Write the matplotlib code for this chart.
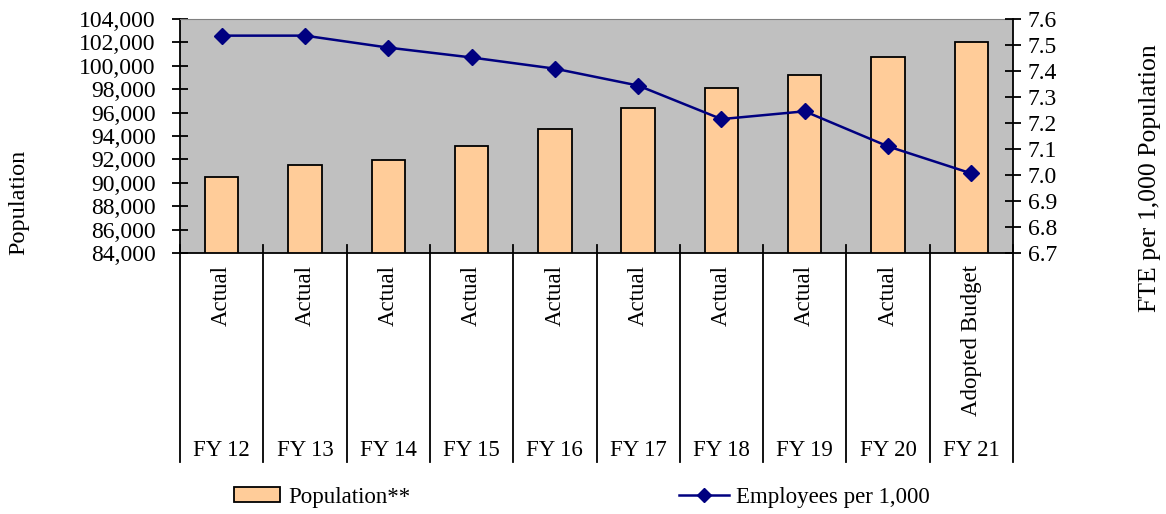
import matplotlib
matplotlib.use("Agg")
import matplotlib.pyplot as plt
from matplotlib.lines import Line2D
from matplotlib.patches import Patch
from matplotlib.ticker import FuncFormatter, MultipleLocator

years = ["FY 12", "FY 13", "FY 14", "FY 15", "FY 16", "FY 17", "FY 18", "FY 19", "FY 20", "FY 21"]
status = ["Actual", "Actual", "Actual", "Actual", "Actual", "Actual", "Actual", "Actual", "Actual", "Adopted Budget"]
population = [90460, 91490, 91950, 93150, 94620, 96420, 98070, 99240, 100720, 102030]
employees_per_1000 = [7.536, 7.536, 7.490, 7.452, 7.409, 7.344, 7.215, 7.245, 7.110, 7.006]

plt.rcParams['font.family'] = ['Liberation Serif', 'DejaVu Serif']
fs = 16.5

fig = plt.figure(figsize=(11.66, 5.14), dpi=100)
ax = fig.add_axes([180 / 1166, 1 - 253 / 514, (1013 - 180) / 1166, (253 - 19) / 514])
ax.set_facecolor('#C0C0C0')

x = list(range(len(years)))
ax.bar(x, population, width=0.4, bottom=0, color='#FFCC99', edgecolor='black', linewidth=1.3, zorder=2)
ax.set_xlim(-0.5, len(years) - 0.5)
ax.set_ylim(84000, 104000)
ax.yaxis.set_major_locator(MultipleLocator(2000))
ax.yaxis.set_major_formatter(FuncFormatter(lambda v, p: "{:,.0f}".format(v)))
ax.tick_params(axis='y', direction='inout', length=11, width=1.3, labelsize=17, pad=12)
ax.set_xticks([])
ax.spines['top'].set_color('#808080')
ax.spines['left'].set_linewidth(1.3)
ax.spines['bottom'].set_linewidth(1.3)
ax.spines['right'].set_visible(False)

ax2 = ax.twinx()
ax2.plot(x, employees_per_1000, color='#000080', linewidth=1.8, marker='D', markersize=8.5, zorder=3)
ax2.set_ylim(6.7, 7.6)
ax2.yaxis.set_major_locator(MultipleLocator(0.1))
ax2.yaxis.set_major_formatter(FuncFormatter(lambda v, p: "{:.1f}".format(v)))
ax2.tick_params(axis='y', direction='inout', length=11, width=1.3, labelsize=17, pad=5)
ax2.spines['right'].set_linewidth(1.3)
ax2.spines['top'].set_visible(False)
ax2.spines['left'].set_visible(False)
ax2.spines['bottom'].set_visible(False)

# axis titles
fig.text(19 / 1166, 1 - 202 / 514, "Population", rotation=90, ha='center', va='center', fontsize=17.5)
fig.text(1150 / 1166, 1 - 178 / 514, "FTE per 1,000 Population", rotation=90, ha='center', va='center', fontsize=18.5)

# multi-level category axis
trans = ax.get_xaxis_transform()
for i in range(len(years) + 1):
    ax.add_line(Line2D([i - 0.5, i - 0.5], [0.034, -0.893], transform=trans,
                       color='black', linewidth=1.3, clip_on=False, zorder=5))
for i in x:
    ax.text(i, -0.05, status[i], transform=trans, rotation=90, ha='center', va='top', fontsize=fs)
    ax.text(i, -0.845, years[i], transform=trans, ha='center', va='center', fontsize=fs)

fig.legend(handles=[Patch(facecolor='#FFCC99', edgecolor='black', linewidth=1.3)],
           labels=["Population**"], loc='center left', bbox_to_anchor=(234 / 1166, 1 - 497 / 514),
           frameon=False, fontsize=fs, handlelength=2.0, handleheight=0.6, handletextpad=0.35,
           borderpad=0, borderaxespad=0)
fig.legend(handles=[Line2D([0], [0], color='#000080', linewidth=1.8, marker='D', markersize=7.5)],
           labels=["Employees per 1,000"], loc='center left', bbox_to_anchor=(679 / 1166, 1 - 497 / 514),
           frameon=False, fontsize=fs, handlelength=2.2, handletextpad=0.3,
           borderpad=0, borderaxespad=0)

fig.savefig("out.png", dpi=100)
